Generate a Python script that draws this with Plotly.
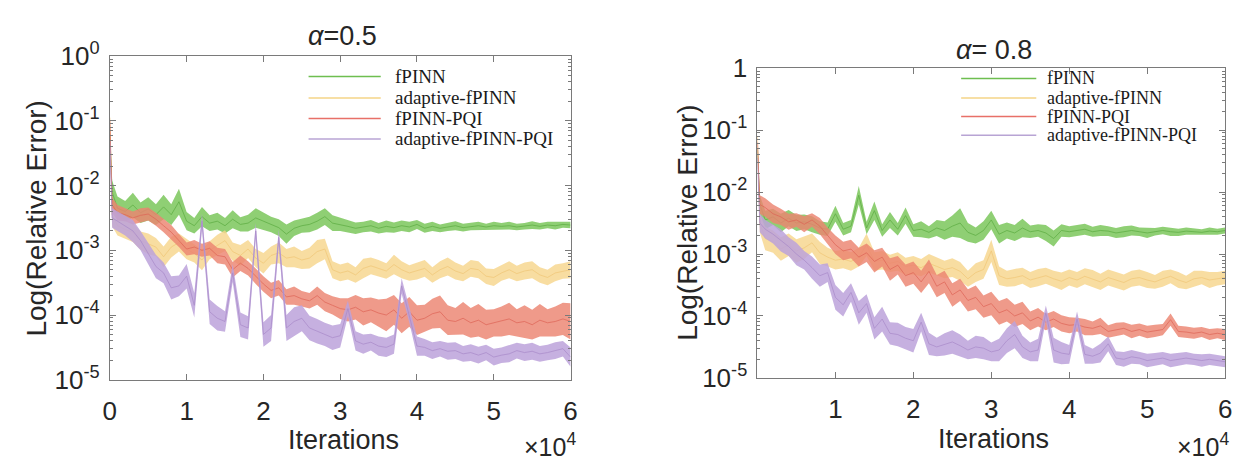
import plotly.graph_objects as go

W, H = 1244, 471

# Iteration sample grid
ITER = [0, 300] + list(range(1000, 60001, 1000))

SERIES = ["fPINN", "adaptive-fPINN", "fPINN-PQI", "adaptive-fPINN-PQI"]

# ---------------- alpha = 0.5 (log10 of relative error: mean, band half-width) ----------------
GL_M = [-1.20, -2.10,
        -2.35, -2.40, -2.30, -2.42, -2.36, -2.45, -2.33, -2.45, -2.25, -2.55,
        -2.62, -2.48, -2.58, -2.55, -2.62, -2.52, -2.60, -2.58, -2.50, -2.55,
        -2.60, -2.65, -2.75, -2.66, -2.62, -2.60, -2.55, -2.48, -2.58, -2.60,
        -2.63, -2.66, -2.64, -2.62, -2.66, -2.63, -2.65, -2.62, -2.64, -2.60,
        -2.66, -2.63, -2.66, -2.64, -2.62, -2.65, -2.63, -2.62, -2.64, -2.62,
        -2.63, -2.62, -2.64, -2.63, -2.61, -2.63, -2.61, -2.62, -2.60, -2.61]
GL_S = [0.05, 0.18,
        0.18, 0.16, 0.19, 0.16, 0.18, 0.16, 0.19, 0.16, 0.20, 0.14,
        0.12, 0.15, 0.12, 0.13, 0.12, 0.14, 0.11, 0.13, 0.15, 0.13,
        0.12, 0.13, 0.15, 0.12, 0.11, 0.12, 0.13, 0.13, 0.12, 0.10,
        0.09, 0.09, 0.08, 0.09, 0.08, 0.09, 0.08, 0.08, 0.08, 0.07,
        0.07, 0.07, 0.06, 0.06, 0.07, 0.06, 0.06, 0.06, 0.05, 0.06,
        0.05, 0.06, 0.05, 0.05, 0.06, 0.05, 0.05, 0.06, 0.05, 0.05]

YL_M = [-0.95, -2.45,
        -2.62, -2.68, -2.72, -2.85, -2.90, -2.95, -3.10, -2.95, -2.88, -2.98,
        -3.05, -3.15, -3.00, -2.92, -2.85, -3.02, -3.08, -2.98, -3.12, -3.20,
        -3.08, -3.04, -3.12, -3.10, -3.15, -3.12, -3.02, -2.98, -3.30, -3.35,
        -3.32, -3.38, -3.28, -3.24, -3.28, -3.32, -3.22, -3.30, -3.35, -3.32,
        -3.28, -3.38, -3.30, -3.25, -3.32, -3.36, -3.28, -3.30, -3.40, -3.42,
        -3.35, -3.30, -3.36, -3.32, -3.30, -3.38, -3.42, -3.35, -3.32, -3.30]
YL_S = [0.05, 0.18,
        0.15, 0.14, 0.15, 0.14, 0.16, 0.14, 0.16, 0.16, 0.14, 0.16,
        0.14, 0.16, 0.14, 0.16, 0.16, 0.14, 0.16, 0.14, 0.14, 0.16,
        0.14, 0.16, 0.14, 0.16, 0.14, 0.16, 0.18, 0.16, 0.13, 0.13,
        0.13, 0.12, 0.15, 0.13, 0.13, 0.12, 0.15, 0.13, 0.12, 0.13,
        0.13, 0.12, 0.13, 0.14, 0.13, 0.12, 0.13, 0.13, 0.12, 0.13,
        0.12, 0.13, 0.12, 0.13, 0.13, 0.12, 0.12, 0.13, 0.12, 0.13]

RL_M = [-1.00, -2.30,
        -2.42, -2.45, -2.50, -2.46, -2.44, -2.52, -2.62, -2.72, -2.85, -2.98,
        -2.95, -3.00, -2.97, -3.08, -3.10, -3.30, -3.20, -3.28, -3.40, -3.52,
        -3.62, -3.58, -3.72, -3.70, -3.75, -3.78, -3.70, -3.80, -3.85, -3.90,
        -3.92, -3.88, -3.95, -3.92, -3.97, -4.00, -3.92, -4.05, -3.95, -4.08,
        -4.05, -3.98, -3.95, -4.08, -4.10, -4.05, -4.12, -4.08, -4.15, -4.12,
        -4.10, -4.06, -4.12, -4.10, -4.15, -4.08, -4.12, -4.10, -4.06, -4.10]
RL_S = [0.05, 0.12,
        0.12, 0.10, 0.10, 0.11, 0.10, 0.10, 0.10, 0.11, 0.10, 0.10,
        0.11, 0.10, 0.11, 0.12, 0.12, 0.12, 0.12, 0.11, 0.12, 0.12,
        0.12, 0.12, 0.12, 0.14, 0.12, 0.12, 0.14, 0.14, 0.14, 0.16,
        0.18, 0.19, 0.21, 0.19, 0.21, 0.25, 0.23, 0.23, 0.23, 0.23,
        0.21, 0.23, 0.25, 0.23, 0.21, 0.25, 0.23, 0.25, 0.23, 0.21,
        0.23, 0.25, 0.21, 0.25, 0.23, 0.25, 0.21, 0.23, 0.25, 0.28]

PL_M = [-1.30, -2.50,
        -2.55, -2.62, -2.70, -2.85, -3.05, -3.25, -3.35, -3.58, -3.55, -3.40,
        -3.85, -2.55, -3.95, -4.05, -4.10, -3.35, -4.15, -4.20, -2.70, -4.30,
        -4.20, -2.80, -4.20, -4.10, -4.05, -4.20, -4.25, -4.30, -4.35, -4.32,
        -3.90, -4.40, -4.45, -4.42, -4.48, -4.50, -4.45, -3.55, -4.00, -4.48,
        -4.50, -4.55, -4.52, -4.56, -4.55, -4.60, -4.58, -4.62, -4.58, -4.65,
        -4.62, -4.60, -4.55, -4.58, -4.56, -4.60, -4.58, -4.55, -4.52, -4.65]
PL_S = [0.05, 0.15,
        0.15, 0.15, 0.17, 0.15, 0.16, 0.18, 0.16, 0.18, 0.16, 0.19,
        0.19, 0.12, 0.19, 0.19, 0.16, 0.14, 0.19, 0.18, 0.12, 0.19,
        0.20, 0.12, 0.20, 0.22, 0.20, 0.19, 0.19, 0.18, 0.19, 0.18,
        0.12, 0.15, 0.15, 0.13, 0.15, 0.15, 0.15, 0.12, 0.12, 0.15,
        0.13, 0.13, 0.12, 0.13, 0.13, 0.12, 0.13, 0.13, 0.12, 0.13,
        0.12, 0.13, 0.12, 0.13, 0.13, 0.12, 0.12, 0.13, 0.12, 0.15]

# ---------------- alpha = 0.8 ----------------
GR_M = [-1.30, -2.20,
        -2.45, -2.40, -2.50, -2.42, -2.50, -2.48, -2.52, -2.58, -2.60, -2.35,
        -2.60, -2.55, -2.05, -2.58, -2.30, -2.62, -2.45, -2.60, -2.38, -2.62,
        -2.60, -2.65, -2.58, -2.62, -2.55, -2.50, -2.65, -2.70, -2.62, -2.45,
        -2.68, -2.62, -2.66, -2.58, -2.64, -2.62, -2.66, -2.75, -2.62, -2.64,
        -2.62, -2.60, -2.64, -2.62, -2.63, -2.66, -2.64, -2.62, -2.64, -2.66,
        -2.64, -2.62, -2.64, -2.65, -2.63, -2.64, -2.65, -2.63, -2.64, -2.62]
GR_S = [0.05, 0.15,
        0.15, 0.13, 0.15, 0.13, 0.13, 0.12, 0.13, 0.11, 0.11, 0.13,
        0.10, 0.10, 0.15, 0.10, 0.15, 0.10, 0.13, 0.10, 0.13, 0.10,
        0.13, 0.10, 0.13, 0.15, 0.17, 0.24, 0.15, 0.13, 0.15, 0.15,
        0.15, 0.13, 0.13, 0.15, 0.10, 0.10, 0.13, 0.13, 0.10, 0.09,
        0.09, 0.09, 0.08, 0.09, 0.08, 0.08, 0.09, 0.08, 0.07, 0.08,
        0.06, 0.06, 0.07, 0.06, 0.06, 0.06, 0.05, 0.06, 0.05, 0.05]

YR_M = [-1.10, -2.50,
        -2.75, -2.80, -2.92, -2.85, -2.95, -2.90, -2.82, -2.98, -3.05, -3.10,
        -3.08, -3.12, -3.05, -2.85, -3.12, -3.10, -3.15, -3.12, -3.20, -3.18,
        -3.22, -3.15, -3.20, -3.25, -3.22, -3.28, -3.40, -3.30, -3.25, -2.95,
        -3.35, -3.40, -3.38, -3.35, -3.42, -3.38, -3.35, -3.40, -3.44, -3.38,
        -3.42, -3.36, -3.40, -3.45, -3.38, -3.42, -3.46, -3.40, -3.38, -3.42,
        -3.45, -3.40, -3.36, -3.42, -3.46, -3.40, -3.38, -3.42, -3.40, -3.38]
YR_S = [0.05, 0.15,
        0.19, 0.18, 0.19, 0.18, 0.19, 0.18, 0.15, 0.18, 0.15, 0.15,
        0.15, 0.15, 0.15, 0.18, 0.15, 0.15, 0.14, 0.15, 0.14, 0.15,
        0.14, 0.15, 0.15, 0.14, 0.15, 0.15, 0.13, 0.15, 0.15, 0.18,
        0.15, 0.13, 0.14, 0.13, 0.13, 0.14, 0.13, 0.13, 0.14, 0.13,
        0.13, 0.13, 0.14, 0.13, 0.13, 0.13, 0.13, 0.13, 0.13, 0.13,
        0.11, 0.13, 0.11, 0.13, 0.11, 0.13, 0.11, 0.13, 0.11, 0.11]

RR_M = [-1.20, -2.20,
        -2.25, -2.35, -2.40, -2.48, -2.45, -2.52, -2.45, -2.55, -2.70, -2.85,
        -2.95, -2.92, -3.05, -2.98, -3.12, -3.05, -3.25, -3.18, -3.35, -3.30,
        -3.45, -3.28, -3.52, -3.45, -3.66, -3.58, -3.75, -3.70, -3.85, -3.80,
        -3.95, -3.90, -4.00, -3.95, -4.08, -4.02, -4.10, -4.05, -4.12, -4.15,
        -4.14, -4.18, -4.20, -4.16, -4.25, -4.22, -4.20, -4.25, -4.22, -4.26,
        -4.24, -4.22, -4.06, -4.25, -4.26, -4.28, -4.26, -4.30, -4.28, -4.30]
RR_S = [0.05, 0.15,
        0.15, 0.15, 0.13, 0.13, 0.11, 0.13, 0.11, 0.13, 0.13, 0.15,
        0.15, 0.15, 0.15, 0.15, 0.18, 0.15, 0.18, 0.15, 0.18, 0.18,
        0.18, 0.19, 0.18, 0.18, 0.19, 0.18, 0.18, 0.19, 0.18, 0.19,
        0.19, 0.19, 0.18, 0.18, 0.15, 0.15, 0.13, 0.13, 0.13, 0.13,
        0.11, 0.13, 0.11, 0.13, 0.10, 0.11, 0.10, 0.11, 0.10, 0.10,
        0.10, 0.09, 0.10, 0.09, 0.09, 0.09, 0.08, 0.09, 0.08, 0.09]

PR_M = [-1.45, -2.50,
        -2.60, -2.68, -2.78, -2.88, -3.00, -3.10, -3.22, -3.35, -3.30, -3.70,
        -3.82, -3.62, -3.95, -3.80, -4.20, -4.05, -4.28, -4.30, -4.36, -4.40,
        -4.10, -4.45, -4.50, -4.46, -4.42, -4.48, -4.55, -4.50, -4.52, -4.58,
        -4.55, -4.40, -4.30, -4.50, -4.58, -4.55, -3.95, -4.55, -4.60, -4.62,
        -4.05, -4.62, -4.65, -4.60, -4.45, -4.68, -4.70, -4.66, -4.68, -4.72,
        -4.70, -4.68, -4.72, -4.70, -4.68, -4.70, -4.72, -4.70, -4.72, -4.74]
PR_S = [0.05, 0.15,
        0.15, 0.15, 0.18, 0.15, 0.18, 0.15, 0.18, 0.18, 0.15, 0.20,
        0.19, 0.15, 0.19, 0.15, 0.18, 0.20, 0.18, 0.19, 0.18, 0.19,
        0.15, 0.18, 0.15, 0.18, 0.19, 0.18, 0.15, 0.18, 0.18, 0.15,
        0.18, 0.20, 0.22, 0.18, 0.15, 0.18, 0.12, 0.20, 0.18, 0.15,
        0.12, 0.15, 0.12, 0.15, 0.12, 0.11, 0.12, 0.11, 0.10, 0.11,
        0.10, 0.10, 0.11, 0.10, 0.10, 0.09, 0.10, 0.09, 0.09, 0.09]

FILL = ["rgba(118,196,86,0.82)", "rgba(247,214,140,0.82)", "rgba(236,132,112,0.82)", "rgba(188,162,218,0.85)"]
LINE = ["rgba(92,172,66,0.9)", "rgba(240,198,118,0.9)", "rgba(222,100,86,0.9)", "rgba(168,138,200,0.9)"]
LEG = ["rgb(110,190,80)", "rgb(245,212,135)", "rgb(232,112,104)", "rgb(184,164,212)"]

PANELS = [
    ("x", "y", [(GL_M, GL_S), (YL_M, YL_S), (RL_M, RL_S), (PL_M, PL_S)]),
    ("x2", "y2", [(GR_M, GR_S), (YR_M, YR_S), (RR_M, RR_S), (PR_M, PR_S)]),
]

fig = go.Figure()
for xa, ya, data in PANELS:
    for i, (m, s) in enumerate(data):
        up = [10 ** (a + b) for a, b in zip(m, s)]
        lo = [10 ** (a - b) for a, b in zip(m, s)]
        mean = [10 ** a for a in m]
        fig.add_trace(go.Scatter(x=ITER + ITER[::-1], y=up + lo[::-1], fill="toself",
                                 fillcolor=FILL[i], line=dict(width=0), mode="lines",
                                 xaxis=xa, yaxis=ya, showlegend=False, hoverinfo="skip"))
        fig.add_trace(go.Scatter(x=ITER, y=mean, mode="lines", line=dict(color=LINE[i], width=0.8),
                                 xaxis=xa, yaxis=ya, name=SERIES[i], showlegend=False))

AX = "#7a7a7a"
TF = dict(family="Liberation Sans, Arial", size=26, color="#262626")
YT = [1e-5, 1e-4, 1e-3, 1e-2, 1e-1, 1]
YTXT_L = ["10<sup>-5</sup>", "10<sup>-4</sup>", "10<sup>-3</sup>", "10<sup>-2</sup>", "10<sup>-1</sup>", "10<sup>0</sup>"]
YTXT_R = ["10<sup>-5</sup>", "10<sup>-4</sup>", "10<sup>-3</sup>", "10<sup>-2</sup>", "10<sup>-1</sup>", "1"]
MINOR = [k * 10 ** e for e in range(-5, 0) for k in range(2, 10)]

def xax(domain, tv, tt):
    return dict(domain=domain, range=[0, 60000], tickvals=tv, ticktext=tt, ticks="inside",
                ticklen=6, tickcolor=AX, showline=True, linecolor=AX, linewidth=1, mirror="ticks",
                showgrid=False, zeroline=False, tickfont=TF, ticklabelstandoff=8)

def yax(domain, tt, anchor):
    return dict(domain=domain, type="log", range=[-5, 0], tickvals=YT, ticktext=tt, ticks="inside",
                ticklen=6, tickcolor=AX, showline=True, linecolor=AX, linewidth=1, mirror="ticks",
                showgrid=False, zeroline=False, tickfont=TF, anchor=anchor, ticklabelstandoff=4,
                minor=dict(tickmode="array", tickvals=MINOR, ticks="inside", ticklen=3, tickcolor=AX))

fig.update_layout(
    width=W, height=H, autosize=False, margin=dict(l=0, r=0, t=0, b=0),
    paper_bgcolor="white", plot_bgcolor="white", showlegend=False,
    xaxis=xax([104 / W, 570 / W], [0, 10000, 20000, 30000, 40000, 50000, 60000], ["0", "1", "2", "3", "4", "5", "6"]) | dict(anchor="y"),
    yaxis=yax([1 - 389 / H, 1 - 41 / H], YTXT_L, "x"),
    xaxis2=xax([759 / W, 1232 / W], [10000, 20000, 30000, 40000, 50000, 60000], ["1", "2", "3", "4", "5", "6"]) | dict(anchor="y2"),
    yaxis2=yax([1 - 387 / H, 1 - 54 / H], YTXT_R, "x2"),
)

ann = []
def A(x, y, text, size=25, xanchor="center", yanchor="middle", angle=0, family="Liberation Sans, Arial", color="#262626"):
    ann.append(dict(x=x / W, y=1 - y / H, xref="paper", yref="paper", text=text, showarrow=False,
                    xanchor=xanchor, yanchor=yanchor, textangle=angle,
                    font=dict(family=family, size=size, color=color)))

A(339, 19, "<i>α</i>=0.5", size=27)
A(998, 34, "<i>α</i>= 0.8", size=27)
A(30, 215, "Log(Relative Error)", size=28, angle=-90)
A(688, 220, "Log(Relative Error)", size=28, angle=-90)
A(340, 454, "Iterations", size=27)
A(998, 453, "Iterations", size=27)
A(578, 459, "×10<sup>4</sup>", size=25, xanchor="right")
A(1238, 459, "×10<sup>4</sup>", size=25, xanchor="right")

shapes = []
legL = [63, 86, 108, 130]
legR = [65, 86, 106, 126]
for i, name in enumerate(SERIES):
    for (x0, x1, xt, yy, fs) in [(305, 378, 390, legL[i], 19), (965, 1041, 1050, legR[i], 18)]:
        shapes.append(dict(type="line", xref="paper", yref="paper", x0=x0 / W, x1=x1 / W,
                           y0=1 - yy / H, y1=1 - yy / H, line=dict(color=LEG[i], width=1.5)))
        A(xt, yy, name, size=fs, xanchor="left", family="Liberation Serif, Times New Roman", color="#1a1a1a")

fig.update_layout(annotations=ann, shapes=shapes)
fig.write_html("out.html")
